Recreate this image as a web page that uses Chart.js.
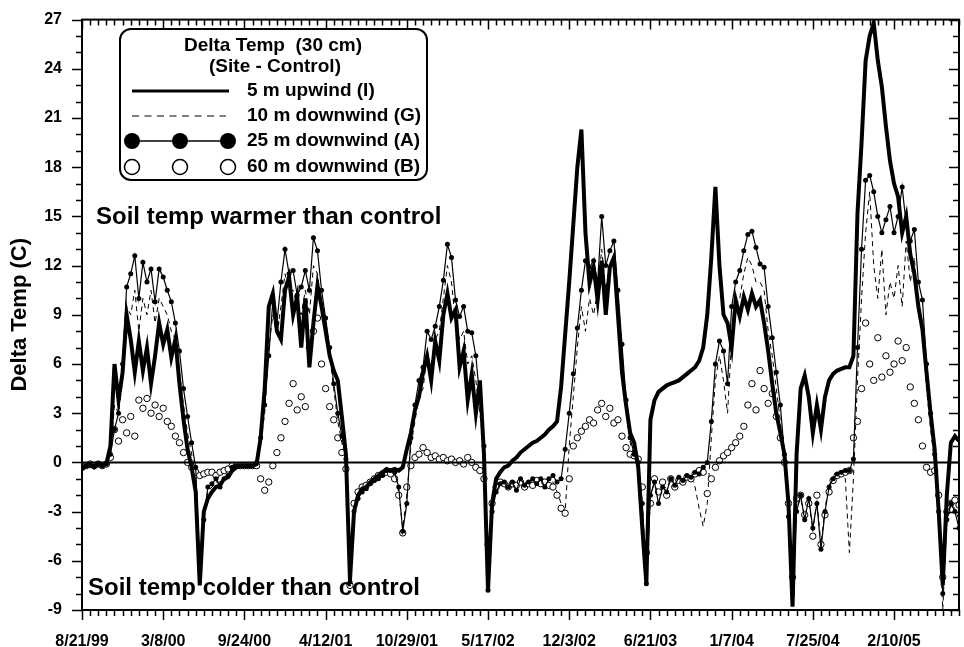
<!DOCTYPE html>
<html>
<head>
<meta charset="utf-8">
<title>Delta Temp (30 cm)</title>
<script src="https://cdn.jsdelivr.net/npm/chart.js@4.4.1/dist/chart.umd.min.js"></script>
<style>
  html, body { margin: 0; padding: 0; background: #fff; }
  #wrap { width: 964px; height: 647px; }
</style>
</head>
<body>
<div id="wrap"><canvas id="chart" width="964" height="647"></canvas></div>
<script>
// Sampling: one value every STEP_DAYS days, starting at START_DATE (8/21/99)
const START_DATE = Date.UTC(1999, 7, 21);
const STEP_DAYS = 10;
const DAY_MS = 86400000;

// x axis range in days and tick spacing (labels every 200 days, minor every 20)
const X_MAX_DAYS = 2160;
const X_MAJOR_DAYS = 200;
const X_MINOR_DAYS = 20;
const X_LABEL_DAYS = [0, 200, 400, 600, 800, 1000, 1200, 1400, 1600, 1800, 2000];

// y axis range
const Y_MIN = -9;
const Y_MAX = 27;
const Y_STEP = 3;

// 5 m upwind (I) - solid line
const upwind5m = [
  -0.4, -0.2, -0.1, -0.3, -0.1, -0.2, -0.1, 1.0, 6.0, 3.8,
  5.5, 9.0, 7.5, 5.5, 7.4, 5.6, 7.0, 4.8, 6.5, 8.5,
  7.2, 8.1, 6.4, 7.5, 4.8, 2.6, 0.8, -0.3, -1.8, -7.5,
  -3.0, -2.2, -1.8, -1.5, -1.4, -1.0, -0.9, -0.5, -0.3, -0.2,
  -0.2, -0.2, -0.2, -0.1, 1.5, 4.5, 9.5, 10.3, 8.0, 7.5,
  10.5, 11.3, 9.0, 10.1, 7.0, 10.0, 5.8, 8.5, 10.8, 9.5,
  8.0, 6.5, 5.6, 5.0, 2.8, 0.5, -7.2, -3.0, -2.0, -1.6,
  -1.5, -1.2, -1.0, -0.8, -0.6, -0.4, -0.5, -0.4, -0.5, -0.3,
  0.8, 1.8, 3.2, 4.0, 5.5, 6.5, 5.0, 7.4, 6.2, 9.0,
  10.3, 8.8, 9.3, 5.8, 6.8, 3.8, 5.4, 3.0, 5.0, 0.5,
  -7.8, -2.5, -1.0, -0.6, -0.3, -0.2, 0.1, 0.3, 0.6, 0.8,
  1.0, 1.2, 1.3, 1.5, 1.7, 2.0, 2.2, 2.5, 4.6, 7.8,
  11.0, 14.5, 18.0, 20.3, 14.0, 10.9, 11.9, 9.9, 12.3, 9.0,
  11.9, 12.5, 9.0, 5.5, 3.5, 1.8, 1.2, -0.3, -4.0, -7.4,
  2.6, 3.8, 4.3, 4.5, 4.7, 4.8, 4.9, 5.0, 5.2, 5.4,
  5.6, 5.8, 6.2, 7.0, 9.0, 12.5, 16.8, 12.0, 9.0, 8.5,
  7.0, 9.9, 8.9, 10.1, 9.3, 10.3, 9.5, 9.9, 8.5, 6.8,
  4.8, 3.0, 1.8, 0.5, -2.5, -8.8, 0.5, 4.5, 5.3, 4.0,
  1.8, 3.5, 2.0, 4.0, 5.0, 5.4, 5.6, 5.7, 5.8, 5.8,
  6.5, 15.2, 19.5, 24.5, 26.0, 26.8, 24.5, 22.9, 20.5, 18.4,
  17.0, 16.2, 14.0, 15.0, 12.7, 11.5, 9.5, 8.1, 5.5, 3.0,
  0.8, -3.0, -7.5, -2.0, 1.2, 1.6, 1.3
];

// 10 m downwind (G) - dashed line
const downwind10m = [
  -0.3, -0.2, -0.2, -0.2, -0.1, -0.2, -0.1, 0.5, 3.5, 3.0,
  5.0, 9.5, 9.0, 10.5, 8.0, 10.0, 9.0, 10.5, 8.5, 10.0,
  9.5, 9.0, 8.0, 7.5, 5.5, 3.5, 1.8, 0.5, -0.8, -7.0,
  -3.2, -1.8, -1.5, -1.2, -1.2, -0.9, -0.7, -0.4, -0.2, -0.2,
  -0.2, -0.2, -0.2, -0.1, 1.2, 3.0, 7.0, 9.0, 7.8, 9.5,
  11.5, 10.5, 10.5, 9.5, 9.0, 10.5, 9.0, 12.0, 11.5, 9.5,
  8.0, 6.5, 4.5, 2.5, 1.2, 0.0, -7.0, -3.0, -2.0, -1.7,
  -1.5, -1.2, -1.0, -0.9, -0.7, -0.5, -0.6, -0.8, -1.8, -4.0,
  -2.0, 1.0, 2.5, 4.0, 4.5, 6.5, 6.0, 7.5, 8.0, 10.0,
  12.0, 11.0, 8.5, 7.5, 8.0, 6.0, 6.5, 5.0, 3.0, 0.5,
  -7.0, -2.8, -1.6, -1.2, -1.2, -1.4, -1.2, -1.5, -1.1, -1.3,
  -1.2, -1.1, -1.2, -1.1, -1.3, -1.1, -1.2, -1.8, -2.5, -3.0,
  1.0, 4.0, 7.0, 9.5, 8.0, 10.0, 9.0, 10.5, 13.0, 10.5,
  12.0, 12.5, 9.5, 6.5, 3.0, 1.2, 0.4, 0.0, -2.5, -7.0,
  -2.2, -1.1, -2.0, -1.4, -1.6, -1.0, -1.3, -0.9, -1.0, -0.8,
  -0.9, -1.5, -2.8, -3.9, -2.5, 1.5, 5.0, 6.5, 5.0, 3.0,
  7.5, 9.5, 10.0, 11.5, 12.5, 12.0, 11.0, 11.0, 10.5, 8.0,
  6.5, 4.5, 2.5, 0.0, -3.0, -7.5, -2.8, -2.2, -3.3, -2.3,
  -4.2, -2.3, -5.0, -2.8, -1.4, -0.9, -0.7, -0.6, -1.0, -5.5,
  -1.0, 5.0, 10.0, 14.0, 16.5, 12.0, 10.0, 13.0, 9.0, 11.0,
  10.0, 12.0, 9.5, 13.5, 11.0, 12.5, 9.0, 8.0, 4.5, 2.0,
  0.0, -3.0, -9.0, -3.5, -2.6, -2.8, -3.5
];

// 25 m downwind (A) - line with filled dots
const downwind25m = [
  -0.3, -0.2, -0.2, -0.2, -0.1, -0.2, -0.1, 0.5, 2.0, 3.0,
  6.0, 10.7, 11.5, 12.6, 10.0, 12.2, 11.0, 11.8, 9.8, 11.8,
  11.3, 10.5, 9.8, 8.5, 6.8, 4.5, 2.8, 1.2, -0.3, -6.5,
  -3.5, -1.5, -1.3, -1.0, -1.5, -1.0, -0.8, -0.3, -0.2, -0.2,
  -0.2, -0.2, -0.2, 0.0, 1.5, 3.5, 6.5, 9.8, 8.5, 11.0,
  13.0, 11.5, 11.7, 10.2, 10.7, 11.7, 10.5, 13.7, 12.9, 10.5,
  8.8, 7.0, 4.8, 3.0, 1.6, 0.2, -7.3, -3.0, -2.2, -1.8,
  -1.6, -1.3, -1.1, -1.0, -0.8, -0.5, -0.5, -0.6, -1.5, -4.2,
  -2.5, 1.5, 3.5, 5.0, 5.8, 8.0, 7.5, 8.3, 9.5, 11.1,
  13.3, 12.5, 9.9, 8.9, 9.5, 8.0, 7.9, 6.5, 3.8, 1.0,
  -7.8, -3.0, -1.8, -1.3, -1.2, -1.5, -1.2, -1.7, -1.0, -1.4,
  -1.2, -1.0, -1.3, -1.0, -1.5, -1.0, -0.8, -1.2, -1.0, 0.8,
  3.0, 5.4, 8.2, 10.5, 12.3, 11.9, 12.3, 11.0, 15.0, 12.0,
  12.9, 13.5, 10.5, 7.2, 3.8, 1.5, 0.5, 0.0, -2.5, -7.4,
  -2.0, -1.2, -2.5, -1.5, -1.8, -1.0, -1.4, -0.9, -1.1, -0.8,
  -0.9, -0.6, -0.7, -0.3, 0.0, 2.5, 6.0, 7.4, 6.8, 4.8,
  9.5, 11.0, 11.7, 12.9, 13.9, 14.1, 13.1, 12.1, 11.9, 9.5,
  7.6, 5.5, 3.5, 0.5, -3.3, -8.0, -3.0, -2.0, -3.5, -2.2,
  -4.0, -2.5, -5.3, -3.0, -1.5, -1.0, -0.7, -0.6, -0.5, -0.5,
  0.2, 7.0, 13.0, 17.2, 17.5, 16.5, 15.0, 14.0, 14.8, 15.6,
  14.0, 15.0, 16.8, 14.5, 13.5, 14.2, 11.0, 9.9, 6.0, 3.0,
  0.5, -3.0, -8.0, -3.5, -2.5, -3.0, -4.0
];

// 60 m downwind (B) - open circles
const downwind60m = [
  -0.3, -0.2, -0.1, -0.2, -0.1, -0.2, -0.1, 0.3, 2.0, 1.3,
  2.6, 1.8, 2.8, 1.6, 3.8, 3.3, 3.9, 3.0, 3.5, 2.8,
  3.3, 2.5, 2.2, 1.6, 1.2, 0.6, 0.0, -0.3, -0.6, -0.8,
  -0.7, -0.6, -0.6, -0.8, -0.6, -0.5, -0.4, -0.2, -0.2, -0.2,
  -0.2, -0.2, -0.2, -0.2, -1.0, -1.7, -1.2, -0.2, 0.6, 1.5,
  2.5, 3.6, 4.8, 3.2, 4.0, 3.4, 7.0, 8.0, 8.8, 6.0,
  4.5, 3.4, 2.6, 1.5, 0.6, -0.4, -7.5, -2.5, -1.8, -1.5,
  -1.4, -1.2, -1.0, -0.8, -0.7, -0.6, -0.7, -1.0, -2.0, -4.3,
  -1.5, -0.2, 0.3, 0.5, 0.9, 0.6, 0.3, 0.4, 0.2, 0.3,
  0.1, 0.2, 0.0, 0.1, -0.1, 0.3, 0.0, -0.3, -0.5, -1.0,
  -5.0, -2.5, -1.5, -1.2, -1.3, -1.5, -1.3, -1.4, -1.2, -1.5,
  -1.3, -1.4, -1.1, -1.3, -1.2, -1.4, -1.5, -2.0, -2.8, -3.1,
  -1.0, 1.0, 1.5, 1.9, 2.2, 2.6, 2.4, 3.2, 3.6, 2.8,
  3.3, 2.4, 2.6, 1.6, 0.9, 0.5, 0.4, 0.2, -1.5, -5.5,
  -2.5, -1.0, -1.8, -1.2, -2.0, -1.0, -1.5, -1.1, -1.2, -0.9,
  -1.0, -0.7, -0.5, -0.6, -1.9, -1.0, -0.3, 0.1, 0.4, 0.6,
  0.9, 1.2, 1.6, 2.2, 3.5, 4.8, 3.2, 5.6, 4.5, 3.6,
  4.2, 2.8, 1.5, 0.0, -2.5, -7.0, -2.2, -2.0, -3.2, -2.5,
  -4.5, -2.0, -5.0, -3.2, -1.8, -1.1, -0.8, -0.7, -0.6, -0.5,
  1.5, 2.5, 4.5, 8.5, 6.0, 5.0, 7.6, 5.2, 6.5, 5.5,
  6.0, 7.4, 6.2, 7.0, 4.6, 3.6, 2.6, 1.0, -0.3, -0.6,
  -0.5, -2.0, -7.0, -3.0, -2.5, -2.3, -2.6
];

const legendTitle = ['Delta Temp  (30 cm)', '(Site - Control)'];
const seriesNames = ['5 m upwind (I)', '10 m downwind (G)', '25 m downwind (A)', '60 m downwind (B)'];
const notes = ['Soil temp warmer than control', 'Soil temp colder than control'];

const FONT = '"Liberation Sans", Arial, Helvetica, sans-serif';

function toPoints(values) {
  return values.map((v, i) => ({ x: i * STEP_DAYS, y: v }));
}

function dayLabel(day) {
  const d = new Date(START_DATE + day * DAY_MS);
  const yy = String(d.getUTCFullYear() % 100).padStart(2, '0');
  return (d.getUTCMonth() + 1) + '/' + d.getUTCDate() + '/' + yy;
}

// frame, ticks on all four sides, zero line, notes and the boxed legend
const decorations = {
  id: 'decorations',
  afterDraw(chart) {
    const { ctx, chartArea: a, scales: { x, y } } = chart;
    ctx.save();
    ctx.strokeStyle = '#000';
    ctx.fillStyle = '#000';

    // zero line
    const y0 = y.getPixelForValue(0);
    ctx.lineWidth = 2;
    ctx.beginPath();
    ctx.moveTo(a.left, y0);
    ctx.lineTo(a.right, y0);
    ctx.stroke();

    // ticks
    ctx.lineWidth = 1.5;
    ctx.beginPath();
    for (let d = 0; d <= X_MAX_DAYS; d += X_MINOR_DAYS) {
      const px = Math.round(x.getPixelForValue(d)) + 0.5;
      const len = d % X_MAJOR_DAYS === 0 ? 10 : 6;
      ctx.moveTo(px, a.bottom);
      ctx.lineTo(px, a.bottom + len);
      ctx.moveTo(px, a.top);
      ctx.lineTo(px, a.top + len);
    }
    for (let v = Y_MIN; v <= Y_MAX; v += 1) {
      const py = Math.round(y.getPixelForValue(v)) + 0.5;
      const len = v % Y_STEP === 0 ? 10 : 6;
      ctx.moveTo(a.left, py);
      ctx.lineTo(a.left - len, py);
      ctx.moveTo(a.right, py);
      ctx.lineTo(a.right - len, py);
    }
    ctx.stroke();

    // frame
    ctx.lineWidth = 2;
    ctx.strokeRect(a.left, a.top, a.right - a.left, a.bottom - a.top);

    // notes
    ctx.font = 'bold 24px ' + FONT;
    ctx.textBaseline = 'middle';
    ctx.textAlign = 'left';
    ctx.fillText(notes[0], 96, 217);
    ctx.fillText(notes[1], 88, 588);

    // legend box
    const bx = 120, by = 29, bw = 307, bh = 151, r = 11;
    ctx.fillStyle = '#fff';
    ctx.lineWidth = 2;
    ctx.beginPath();
    ctx.moveTo(bx + r, by);
    ctx.arcTo(bx + bw, by, bx + bw, by + bh, r);
    ctx.arcTo(bx + bw, by + bh, bx, by + bh, r);
    ctx.arcTo(bx, by + bh, bx, by, r);
    ctx.arcTo(bx, by, bx + bw, by, r);
    ctx.closePath();
    ctx.fill();
    ctx.stroke();

    ctx.fillStyle = '#000';
    ctx.font = 'bold 19px ' + FONT;
    ctx.textAlign = 'center';
    ctx.fillText(legendTitle[0], 273, 46);
    ctx.fillText(legendTitle[1], 275, 67);

    ctx.textAlign = 'left';
    const rows = [91, 116, 141, 167];
    rows.forEach((ry, i) => ctx.fillText(seriesNames[i], 247, ry));

    // sample: solid
    ctx.lineWidth = 3;
    ctx.beginPath();
    ctx.moveTo(132, rows[0]);
    ctx.lineTo(229, rows[0]);
    ctx.stroke();
    // sample: dashed
    ctx.lineWidth = 1.2;
    ctx.setLineDash([7, 5.5]);
    ctx.beginPath();
    ctx.moveTo(132, rows[1]);
    ctx.lineTo(226, rows[1]);
    ctx.stroke();
    ctx.setLineDash([]);
    // sample: line with filled dots
    ctx.lineWidth = 1.5;
    ctx.beginPath();
    ctx.moveTo(132, rows[2]);
    ctx.lineTo(228, rows[2]);
    ctx.stroke();
    [132, 180, 228].forEach(cx => {
      ctx.beginPath();
      ctx.arc(cx, rows[2], 8, 0, Math.PI * 2);
      ctx.fill();
    });
    // sample: open circles
    ctx.lineWidth = 1.5;
    [132, 180, 228].forEach(cx => {
      ctx.beginPath();
      ctx.arc(cx, rows[3], 7.5, 0, Math.PI * 2);
      ctx.stroke();
    });

    ctx.restore();
  }
};

const tickFont = { family: FONT, size: 16, weight: 'bold' };

new Chart(document.getElementById('chart'), {
  type: 'line',
  data: {
    datasets: [
      {
        label: seriesNames[0],
        data: toPoints(upwind5m),
        borderColor: '#000',
        borderWidth: 4,
        pointRadius: 0,
        order: 1
      },
      {
        label: seriesNames[1],
        data: toPoints(downwind10m),
        borderColor: '#000',
        borderWidth: 1,
        borderDash: [5, 4],
        pointRadius: 0,
        order: 4
      },
      {
        label: seriesNames[2],
        data: toPoints(downwind25m),
        borderColor: '#000',
        borderWidth: 1.2,
        pointRadius: 2.5,
        pointBackgroundColor: '#000',
        pointBorderColor: '#000',
        pointBorderWidth: 0,
        order: 2
      },
      {
        label: seriesNames[3],
        data: toPoints(downwind60m),
        showLine: false,
        pointRadius: 3.2,
        pointBackgroundColor: '#fff',
        pointBorderColor: '#000',
        pointBorderWidth: 1,
        order: 3
      }
    ]
  },
  options: {
    responsive: false,
    animation: false,
    devicePixelRatio: 1,
    layout: { padding: { top: 19, right: 1, bottom: 0, left: 0 } },
    plugins: {
      legend: { display: false },
      tooltip: { enabled: false }
    },
    scales: {
      x: {
        type: 'linear',
        min: 0,
        max: X_MAX_DAYS,
        afterBuildTicks(scale) {
          scale.ticks = X_LABEL_DAYS.map(v => ({ value: v }));
        },
        afterFit(scale) { scale.height = 37; },
        grid: { display: false, drawTicks: true, tickLength: 10 },
        border: { display: false },
        ticks: {
          autoSkip: false,
          maxRotation: 0,
          padding: 12,
          color: '#000',
          font: tickFont,
          callback: value => dayLabel(value)
        }
      },
      y: {
        min: Y_MIN,
        max: Y_MAX,
        afterFit(scale) { scale.width = 82; },
        grid: { display: false, drawTicks: true, tickLength: 10 },
        border: { display: false },
        ticks: {
          stepSize: Y_STEP,
          autoSkip: false,
          padding: 10,
          color: '#000',
          font: tickFont
        },
        title: {
          display: true,
          text: 'Delta Temp (C)',
          color: '#000',
          font: { family: FONT, size: 22, weight: 'bold' },
          padding: { top: 7, bottom: 0 }
        }
      }
    }
  },
  plugins: [decorations]
});
</script>
</body>
</html>
